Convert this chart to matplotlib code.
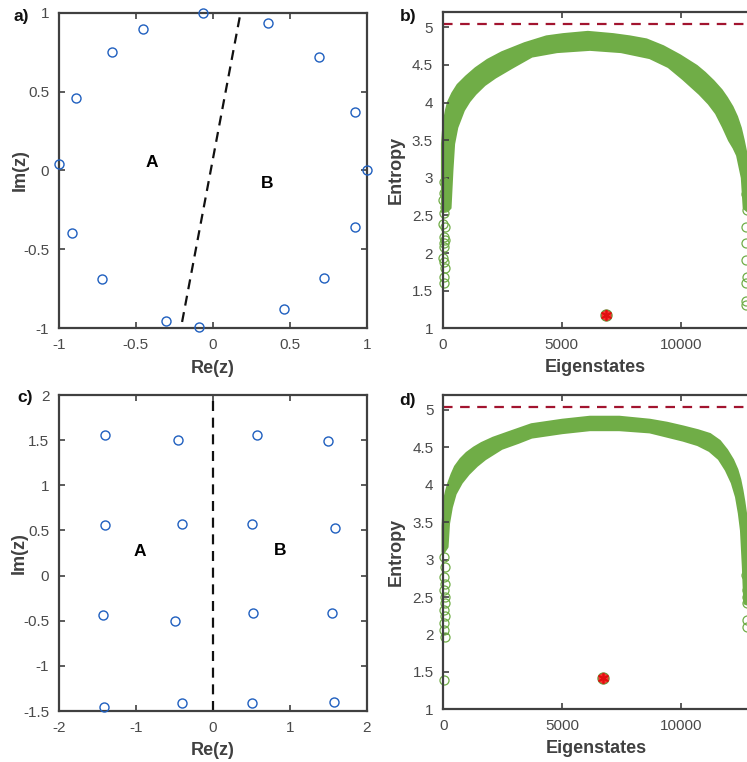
import numpy as np
import matplotlib
matplotlib.use('Agg')
import matplotlib.pyplot as plt

plt.rcParams['font.family'] = ['Liberation Sans', 'DejaVu Sans']

# panel a: zeros on the unit circle and the cut between A and B
a_re = [-0.062, -0.452, -0.658, -0.889, -1.0, -0.918, -0.723, -0.307,
        -0.090, 0.465, 0.725, 0.926, 1.0, 0.924, 0.692, 0.356]
a_im = [1.0, 0.894, 0.753, 0.457, 0.039, -0.398, -0.690, -0.951,
        -0.994, -0.880, -0.683, -0.360, 0.0, 0.371, 0.717, 0.932]
a_cut_re = [-0.20, 0.18]
a_cut_im = [-0.96, 1.0]

# panel c: zeros on a square lattice
c_re = [-1.402, -0.449, 0.570, 1.502, -1.402, -0.405, 0.514, 1.589,
        -1.432, -0.492, 0.527, 1.545, -1.411, -0.405, 0.514, 1.580]
c_im = [1.557, 1.502, 1.557, 1.490, 0.560, 0.568, 0.568, 0.531,
        -0.437, -0.500, -0.418, -0.411, -1.452, -1.408, -1.415, -1.404]
c_cut_re = [0.0, 0.0]
c_cut_im = [-1.5, 1.95]

n_states = 12870
page_value = 5.04

# panel b: entropy band (upper / lower edge)
b_up_x = [0, 40, 100, 170, 250, 430, 650, 1000, 1400, 1900, 2500, 3450, 4365,
          5065, 6100, 7160, 7860, 8560, 9260, 9960, 10660, 11000, 11360, 11700,
          11920, 12150, 12340, 12500, 12620, 12750, 12870]
b_up_y = [3.45, 3.62, 3.78, 3.90, 4.00, 4.12, 4.23, 4.34, 4.45, 4.56, 4.66, 4.78, 4.87,
          4.90, 4.93, 4.90, 4.87, 4.83, 4.74, 4.62, 4.48, 4.39, 4.28, 4.16,
          4.06, 3.94, 3.81, 3.66, 3.50, 3.30, 3.10]
b_lo_x = [0, 300, 380, 450, 585, 865, 1100, 1360, 1750, 2200, 2900, 3740, 4800,
          6190, 7500, 8710, 9500, 10110, 10810, 11200, 11510, 11800, 12060,
          12250, 12400, 12600, 12680, 12870]
b_lo_y = [2.55, 2.60, 3.10, 3.45, 3.67, 3.90, 4.02, 4.12, 4.24, 4.34, 4.47, 4.62, 4.68,
          4.71, 4.68, 4.60, 4.48, 4.32, 4.12, 3.99, 3.86, 3.68, 3.50,
          3.40, 3.30, 3.00, 2.60, 2.55]
b_tail_l_x = [40, 70, 30, 90, 60, 20, 80, 50, 100, 40, 70, 30, 60, 90, 50, 40]
b_tail_l_y = [2.95, 2.80, 2.70, 2.61, 2.53, 2.39, 2.35, 2.21, 2.17, 2.13,
              2.08, 1.93, 1.88, 1.80, 1.68, 1.60]
b_tail_r_x = [12760, 12740, 12770, 12750, 12760, 12740, 12770, 12750, 12760, 12750]
b_tail_r_y = [3.01, 2.79, 2.57, 2.35, 2.13, 1.91, 1.68, 1.60, 1.36, 1.31]
b_star = (6880, 1.18)

# panel d
d_up_x = [0, 60, 150, 240, 380, 520, 750, 1000, 1300, 1620, 2100, 2720, 3710,
          5000, 6160, 7400, 8680, 9400, 10080, 10700, 11200, 11600, 11900,
          12150, 12330, 12450, 12540, 12620, 12700, 12870]
d_up_y = [3.45, 3.79, 3.92, 4.02, 4.14, 4.24, 4.34, 4.42, 4.49, 4.55, 4.62, 4.69, 4.80,
          4.86, 4.90, 4.90, 4.86, 4.82, 4.77, 4.72, 4.67, 4.58, 4.46,
          4.33, 4.20, 4.07, 3.93, 3.78, 3.60, 3.30]
d_lo_x = [0, 150, 210, 330, 490, 750, 1050, 1400, 1750, 2450, 3150, 3710, 5000,
          6160, 7400, 8680, 10080, 10700, 11200, 11600, 11900, 12150, 12330,
          12450, 12540, 12620, 12680, 12870]
d_lo_y = [3.10, 3.17, 3.48, 3.70, 3.88, 4.03, 4.15, 4.26, 4.35, 4.49, 4.57, 4.64, 4.70,
          4.74, 4.74, 4.71, 4.60, 4.54, 4.46, 4.35, 4.20, 4.03, 3.84,
          3.62, 3.39, 2.90, 2.42, 2.40]
d_tail_l_x = [50, 80, 40, 70, 30, 60, 90, 40, 70, 50, 30, 60, 40]
d_tail_l_y = [3.04, 2.90, 2.77, 2.68, 2.59, 2.50, 2.42, 2.33, 2.24, 2.15,
              2.06, 1.97, 1.39]
d_tail_r_x = [12760, 12740, 12770, 12750, 12760, 12750, 12760]
d_tail_r_y = [3.00, 2.80, 2.60, 2.50, 2.42, 2.19, 2.10]
d_star = (6700, 1.42)

a_ticks = [-1, -0.5, 0, 0.5, 1]
a_ticklabels = ['-1', '-0.5', '0', '0.5', '1']
c_xticks = [-2, -1, 0, 1, 2]
c_xticklabels = ['-2', '-1', '0', '1', '2']
c_yticks = [-1.5, -1, -0.5, 0, 0.5, 1, 1.5, 2]
c_yticklabels = ['-1.5', '-1', '-0.5', '0', '0.5', '1', '1.5', '2']
e_xticks = [0, 5000, 10000]
e_xticklabels = ['0', '5000', '10000']
e_yticks = [1, 1.5, 2, 2.5, 3, 3.5, 4, 4.5, 5]
e_yticklabels = ['1', '1.5', '2', '2.5', '3', '3.5', '4', '4.5', '5']

blue = '#1f5fbf'
green = '#70ad47'
darkred = '#a2142f'
axis_gray = '#404040'
tick_gray = '#4a4a4a'

fig = plt.figure(figsize=(7.47, 7.62), dpi=100)
ax_a = fig.add_axes([0.0790, 0.5692, 0.4119, 0.4141])
ax_b = fig.add_axes([0.5926, 0.5692, 0.4100, 0.4147])
ax_c = fig.add_axes([0.0790, 0.0669, 0.4119, 0.4147])
ax_d = fig.add_axes([0.5934, 0.0692, 0.4100, 0.4124])


def style(ax, right=True):
    for s in ax.spines.values():
        s.set_linewidth(1.6)
        s.set_color(axis_gray)
    ax.tick_params(direction='in', top=True, right=right, length=4, width=1.2,
                   color=axis_gray, labelcolor=tick_gray, labelsize=11, pad=7)


def zeros_panel(ax, re, im, cut_re, cut_im, xt, xtl, yt, ytl, xlim, ylim,
                posA, posB, xl_y, yl_x):
    ax.plot(re, im, 'o', mfc='none', mec=blue, ms=6.5, mew=1.0, clip_on=False, zorder=3)
    ax.plot(cut_re, cut_im, color='#111111', lw=1.6, ls=(0, (4.5, 3)))
    ax.set_xlim(xlim)
    ax.set_ylim(ylim)
    ax.set_xticks(xt, xtl)
    ax.set_yticks(yt, ytl)
    ax.text(posA[0], posA[1], 'A', fontsize=12.5, fontweight='bold', ha='center', va='center')
    ax.text(posB[0], posB[1], 'B', fontsize=12.5, fontweight='bold', ha='center', va='center')
    ax.set_xlabel('Re(z)', fontsize=13, fontweight='bold', color=axis_gray)
    ax.set_ylabel('Im(z)', fontsize=13, fontweight='bold', color=axis_gray)
    ax.xaxis.set_label_coords(0.5, xl_y)
    ax.yaxis.set_label_coords(yl_x, 0.5)
    style(ax)


def entropy_panel(ax, up_x, up_y, lo_x, lo_y, tl_x, tl_y, tr_x, tr_y, star, xl_y, yl_x):
    ax.axhline(page_value, color=darkred, lw=1.6, ls=(0, (4.3, 3.4)))
    ax.fill(np.r_[up_x, lo_x[::-1]], np.r_[up_y, lo_y[::-1]],
            fc=green, ec=green, lw=2.5, joinstyle='round', clip_on=False)
    ax.plot(tl_x, tl_y, 'o', mfc='none', mec=green, ms=6.5, mew=0.9, clip_on=False)
    ax.plot(tr_x, tr_y, 'o', mfc='none', mec=green, ms=6.5, mew=0.9, clip_on=False)
    ax.plot(star[0], star[1], 'o', mfc='#ff3030', mec='#6f8f3a', ms=8, mew=0.9, zorder=4)
    ax.plot(star[0], star[1], marker=(6, 2, 0), color='#e01010', ms=8, mew=1.2, zorder=5)
    ax.set_xlim(0, n_states)
    ax.set_ylim(1, 5.2)
    ax.set_xticks(e_xticks, e_xticklabels)
    ax.set_yticks(e_yticks, e_yticklabels)
    ax.set_xlabel('Eigenstates', fontsize=13, fontweight='bold', color=axis_gray)
    ax.set_ylabel('Entropy', fontsize=13, fontweight='bold', color=axis_gray)
    ax.xaxis.set_label_coords(0.5, xl_y)
    ax.yaxis.set_label_coords(yl_x, 0.5)
    style(ax, right=False)


zeros_panel(ax_a, a_re, a_im, a_cut_re, a_cut_im, a_ticks, a_ticklabels,
            a_ticks, a_ticklabels, (-1, 1), (-1, 1), (-0.40, 0.05), (0.35, -0.08),
            -0.100, -0.097)
zeros_panel(ax_c, c_re, c_im, c_cut_re, c_cut_im, c_xticks, c_xticklabels,
            c_yticks, c_yticklabels, (-2, 2), (-1.5, 2), (-0.95, 0.27), (0.87, 0.28),
            -0.097, -0.103)
entropy_panel(ax_b, b_up_x, b_up_y, b_lo_x, b_lo_y, b_tail_l_x, b_tail_l_y,
              b_tail_r_x, b_tail_r_y, b_star, -0.098, -0.123)
entropy_panel(ax_d, d_up_x, d_up_y, d_lo_x, d_lo_y, d_tail_l_x, d_tail_l_y,
              d_tail_r_x, d_tail_r_y, d_star, -0.098, -0.125)

for lab, x, y in [('a)', 0.029, 0.978), ('b)', 0.546, 0.978),
                  ('c)', 0.0335, 0.478), ('d)', 0.546, 0.475)]:
    fig.text(x, y, lab, fontsize=12.5, fontweight='bold', ha='center', va='center', color='#111111')

fig.savefig('out.png', dpi=100)
